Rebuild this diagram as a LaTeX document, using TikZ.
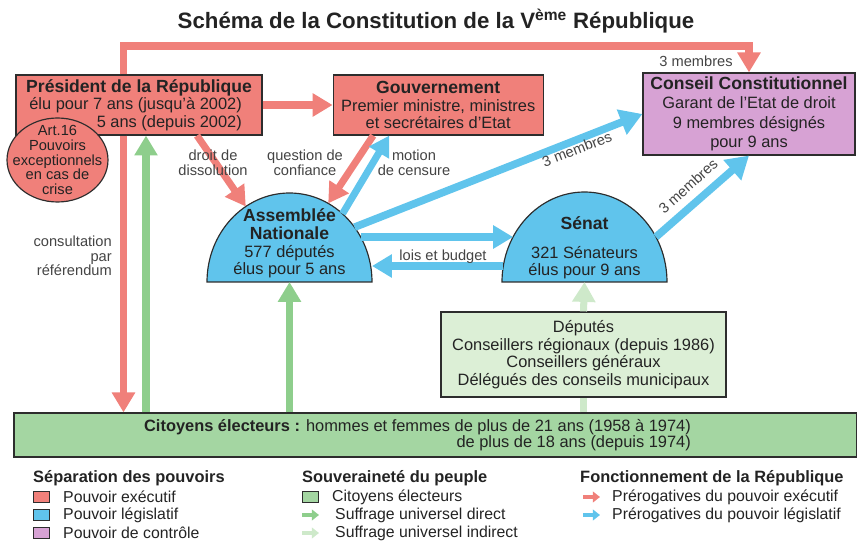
\documentclass[tikz,border=0pt]{standalone}
\usepackage{fontspec}
\setmainfont{Liberation Sans}
\usepackage{xcolor}
\usepackage{tikz}
\usetikzlibrary{positioning,shapes,arrows.meta}

\definecolor{executif}{RGB}{240,128,122}
\definecolor{legislatif}{RGB}{96,196,236}
\definecolor{controle}{RGB}{215,162,212}
\definecolor{citoyen}{RGB}{164,214,162}
\definecolor{direct}{RGB}{142,206,140}
\definecolor{indirect}{RGB}{206,233,202}
\definecolor{delegue}{RGB}{220,239,214}
\definecolor{trait}{RGB}{45,45,45}
\definecolor{encre}{RGB}{35,35,35}

\newcommand{\px}{0.03cm}
\newcommand{\txttitre}{\fontsize{19}{22}\selectfont\bfseries}
\newcommand{\txtgras}{\fontsize{15}{16}\selectfont\bfseries}
\newcommand{\txtcorps}{\fontsize{14}{15}\selectfont}
\newcommand{\txtpetit}{\fontsize{12.5}{12.5}\selectfont}
\newcommand{\txtlegende}{\fontsize{13.5}{15}\selectfont}

\tikzstyle{organe}=[rectangle, draw=trait, line width=1pt, text=encre, align=center,
        inner sep=0pt, font=\txtcorps]
\tikzstyle{texte}=[text=encre, align=center, inner sep=0pt, font=\txtcorps]
\tikzstyle{hemicycle}=[draw=trait, line width=1pt, fill=legislatif]
\tikzstyle{etiquette}=[text=encre!85, align=center, inner sep=0pt, font=\txtpetit]
\tikzstyle{fleche}=[line width=6pt, -{Triangle[length=17pt,width=19pt]}]
\tikzstyle{grandefleche}=[line width=6.5pt, -{Triangle[length=19pt,width=22pt]}]
\tikzstyle{pastille}=[rectangle, draw=trait, line width=0.8pt, minimum width=16*\px,
        minimum height=11*\px, inner sep=0pt]
\tikzstyle{petitefleche}=[line width=3pt, -{Triangle[length=6pt,width=9pt]}]
\tikzstyle{legtitre}=[text=encre, anchor=west, inner sep=0pt, font=\fontsize{14}{15}\selectfont\bfseries]
\tikzstyle{legtexte}=[text=encre, anchor=west, inner sep=0pt, font=\txtlegende]

\begin{document}
\begin{tikzpicture}[x=\px, y=-\px]
\useasboundingbox (0,0) rectangle (857,542);

% titre
\node (Titre) [text=encre] at (436,21) {\txttitre Schéma de la Constitution de la V\textsuperscript{ème} République};

% pouvoir executif
\node (President) [organe, fill=executif, minimum width=246*\px, minimum height=60*\px, align=right] at (139,105)
  {{\txtgras Président de la République}\\élu pour 7 ans (jusqu'à 2002)\rule{0.3cm}{0pt}\\5 ans (depuis 2002)\rule{0.3cm}{0pt}};
\node (Gouvernement) [organe, fill=executif, minimum width=210*\px, minimum height=60*\px, right=2.1cm of President]
  {{\txtgras Gouvernement}\\Premier ministre, ministres\\et secrétaires d'Etat};
\filldraw[draw=trait, line width=1pt, fill=executif] (57.5,160) ellipse [x radius=50.5, y radius=42];
\node (Art16) [etiquette, text=encre] at (57.5,160) {Art.16\\Pouvoirs\\exceptionnels\\en cas de\\crise};

% controle
\node (Conseil) [organe, fill=controle, minimum width=212*\px, minimum height=82*\px,
  font=\fontsize{14}{16.5}\selectfont] at (749,114)
  {{\txtgras Conseil Constitutionnel}\\Garant de l'Etat de droit\\9 membres désignés\\pour 9 ans};

% parlement
\draw[hemicycle] (207,282) arc[start angle=180, end angle=360, x radius=82.5, y radius=89] -- cycle;
\node (Assemblee) [texte] at (289.5,243.5)
  {{\txtgras Assemblée}\\{\txtgras Nationale}\\577 députés\\élus pour 5 ans};
\draw[hemicycle] (502,282) arc[start angle=180, end angle=360, x radius=82.5, y radius=90] -- cycle;
\node (Senat) [texte] at (584.5,248) {{\txtgras Sénat}\\[9pt]321 Sénateurs\\élus pour 9 ans};

% electeurs
\node (Delegues) [organe, fill=delegue, minimum width=285*\px, minimum height=85*\px] at (583.5,354.5)
  {Députés\\Conseillers régionaux (depuis 1986)\\Conseillers généraux\\Délégués des conseils municipaux};
\node (Citoyens) [organe, fill=citoyen, minimum width=843*\px, minimum height=44*\px, align=right,
  font=\fontsize{14}{14}\selectfont] at (435.5,435)
  {{\bfseries Citoyens électeurs :} hommes et femmes de plus de 21 ans (1958 à 1974)\rule{1.08cm}{0pt}\\
   de plus de 18 ans (depuis 1974)\rule{1.08cm}{0pt}};

% points d'attache
\coordinate (Referendum) at (123.5,46);
\coordinate (Suffrage) at (146,0);
\coordinate (AN-dissol) at (245.8,206.5);
\coordinate (AN-confiance) at (328.2,203.4);
\coordinate (AN-censure) at (342.5,213.8);
\coordinate (AN-membres) at (354.5,227.2);
\coordinate (AN-loisD) at (360.7,237);
\coordinate (AN-loisG) at (372,266);
\coordinate (AN-base) at (289.5,282);
\coordinate (S-loisD) at (513.1,237);
\coordinate (S-loisG) at (503.3,266);
\coordinate (S-membres) at (655.9,237);
\coordinate (S-base) at (584.5,282);

% prerogatives de l'executif
\draw[fleche, executif] (President.north -| Referendum) -- (Referendum) -| (Conseil.north);
\draw[fleche, executif] (President.south -| Referendum) -- (Citoyens.north -| Referendum);
\draw[fleche, executif] (President.east) -- (Gouvernement.west);
\draw[fleche, executif] ([xshift=1.74cm]President.south) -- (AN-dissol);
\draw[fleche, executif] ([xshift=-1.95cm]Gouvernement.south) -- (AN-confiance);

% prerogatives du legislatif
\draw[fleche, legislatif] (AN-censure) -- ([xshift=-1.47cm]Gouvernement.south);
\draw[grandefleche, legislatif] (AN-membres) -- (Conseil.west);
\draw[fleche, legislatif] (AN-loisD) -- (S-loisD);
\draw[fleche, legislatif] (S-loisG) -- (AN-loisG);
\draw[grandefleche, legislatif] (S-membres) -- (Conseil.south);

% suffrage
\draw[fleche, direct] (Citoyens.north -| Suffrage) -- (President.south -| Suffrage);
\draw[fleche, direct] (Citoyens.north -| AN-base) -- (AN-base);
\draw[line width=6pt, indirect] (Citoyens.north -| Delegues) -- (Delegues.south);
\draw[fleche, indirect] (Delegues.north) -- (S-base);

% etiquettes
\node (Dissolution) [etiquette] at (213,163) {droit de\\dissolution};
\node (Confiance) [etiquette] at (305,163) {question de\\confiance};
\node (Censure) [etiquette] at (414,163) {motion\\de censure};
\node (Consultation) [etiquette, align=right, anchor=east] at (112,256) {consultation\\par\\référendum};
\node (Lois) [etiquette] at (443,257) {lois et budget};
\node (MembresPres) [etiquette] at (696,61) {3 membres};
\node (MembresAN) [etiquette, rotate=21] at (577,149) {3 membres};
\node (MembresSenat) [etiquette, rotate=42] at (688,186) {3 membres};

% legende
\node (Separation) [legtitre] at (33,478) {Séparation des pouvoirs};
\node (CaseExec) [pastille, fill=executif] at (41.5,497) {};
\node (TexteExec) [legtexte, right=0.39cm of CaseExec] {Pouvoir exécutif};
\node (CaseLegis) [pastille, fill=legislatif] at (41.5,515) {};
\node (TexteLegis) [legtexte, right=0.39cm of CaseLegis] {Pouvoir législatif};
\node (CaseControle) [pastille, fill=controle] at (41.5,533) {};
\node (TexteControle) [legtexte, right=0.39cm of CaseControle] {Pouvoir de contrôle};

\node (Souverainete) [legtitre] at (302,478) {Souveraineté du peuple};
\node (CaseCitoyens) [pastille, fill=citoyen] at (310.5,497) {};
\node (TexteCitoyens) [legtexte, right=0.39cm of CaseCitoyens] {Citoyens électeurs};
\node (TexteDirect) [legtexte] at (335,515) {Suffrage universel direct};
\draw[petitefleche, direct] ([xshift=-0.99cm]TexteDirect.west) -- ([xshift=-0.48cm]TexteDirect.west);
\node (TexteIndirect) [legtexte] at (335,533) {Suffrage universel indirect};
\draw[petitefleche, indirect] ([xshift=-0.99cm]TexteIndirect.west) -- ([xshift=-0.48cm]TexteIndirect.west);

\node (Fonctionnement) [legtitre] at (580,478) {Fonctionnement de la République};
\node (TexteFlecheExec) [legtexte] at (612,497) {Prérogatives du pouvoir exécutif};
\draw[petitefleche, executif] ([xshift=-0.87cm]TexteFlecheExec.west) -- ([xshift=-0.36cm]TexteFlecheExec.west);
\node (TexteFlecheLegis) [legtexte] at (612,515) {Prérogatives du pouvoir législatif};
\draw[petitefleche, legislatif] ([xshift=-0.87cm]TexteFlecheLegis.west) -- ([xshift=-0.36cm]TexteFlecheLegis.west);
\end{tikzpicture}
\end{document}
